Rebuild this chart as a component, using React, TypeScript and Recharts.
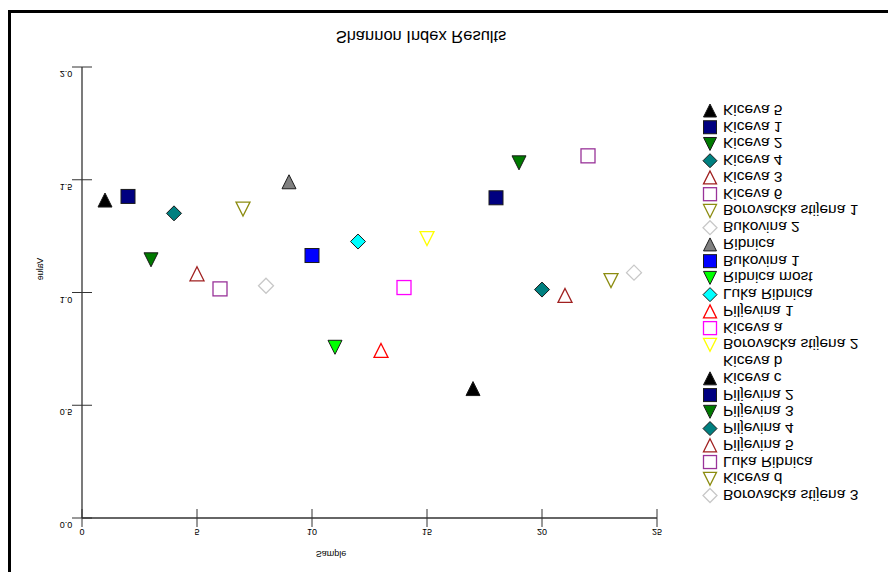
import { Legend, Scatter, ScatterChart, XAxis, YAxis } from "recharts";

// samples in plotting order (x = position on the Sample axis)
const sampleNames = [
  "Kiceva 5", "Kiceva 1", "Kiceva 2", "Kiceva 4", "Kiceva 3", "Kiceva 6",
  "Borovacka stijena 1", "Bukovina 2", "Ribnica", "Bukovina 1", "Ribnica most", "Luka Ribnica",
  "Piljevina 1", "Kiceva a", "Borovacka stijena 2", "Kiceva b", "Kiceva c", "Piljevina 2",
  "Piljevina 3", "Piljevina 4", "Piljevina 5", "Luka Ribnica", "Kiceva d", "Borovacka stijena 3",
];
const samplePositions = [1, 2, 3, 4, 5, 6, 7, 8, 9, 10, 11, 12, 13, 14, 15, 16, 17, 18, 19, 20, 21, 22, 23, 24];
const shannonValues = [
  1.41, 1.426, 1.145, 1.351, 1.083, 1.016,
  1.37, 1.03, 1.491, 1.164, 0.757, 1.226,
  0.743, 1.022, 1.239, 1.2, 0.574, 1.42,
  1.575, 1.013, 0.987, 1.606, 1.053, 1.088,
];
const xTicks = [0, 5, 10, 15, 20, 25];
const yTicks = [0, 0.5, 1, 1.5, 2];

// marker styles
const markerShapes = ["up", "square", "down", "diamond"];
const markerColors = [
  "#000000", "#000080", "#007a00", "#008080", "#a02020", "#993399", "#8c8c10", "#c8c8c8",
  "#808080", "#0000ff", "#00ff00", "#00ffff", "#ff0000", "#ff00ff", "#ffff00", "#ffffff",
  "#000000", "#000080", "#007a00", "#008080", "#a02020", "#993399", "#8c8c10", "#c8c8c8",
];
const markerFilled = [
  true, true, true, true, false, false, false, false,
  true, true, true, true, false, false, false, false,
  true, true, true, true, false, false, false, false,
];

const FONT = "'Liberation Sans', Arial, Helvetica, sans-serif";

// the source picture has every glyph mirrored top to bottom
function FlipText({ x, y, size, anchor = "middle", rotate = 0, children }: any) {
  const rot = rotate ? ` rotate(${rotate})` : "";
  return (
    <text
      transform={`translate(${x},${y}) scale(1,-1)${rot}`}
      x={0}
      y={0}
      textAnchor={anchor}
      dominantBaseline="central"
      fontSize={size}
      fontFamily={FONT}
      fill="#000"
    >
      {children}
    </text>
  );
}

function Marker({ cx, cy, i, s = 7 }: any) {
  const shape = markerShapes[i % 4];
  const color = markerColors[i];
  const filled = markerFilled[i];
  const fill = filled ? color : "#ffffff";
  const stroke = filled ? "#1a1a1a" : color;
  const sw = filled ? 1 : 1.3;
  if (shape === "square") {
    return <rect x={cx - s} y={cy - s} width={2 * s} height={2 * s} fill={fill} stroke={stroke} strokeWidth={sw} />;
  }
  let pts = "";
  if (shape === "up") pts = `${cx},${cy - s} ${cx + s},${cy + s} ${cx - s},${cy + s}`;
  if (shape === "down") pts = `${cx - s},${cy - s} ${cx + s},${cy - s} ${cx},${cy + s}`;
  if (shape === "diamond") {
    const d = s + 0.5;
    pts = `${cx},${cy - d} ${cx + d},${cy} ${cx},${cy + d} ${cx - d},${cy}`;
  }
  return <polygon points={pts} fill={fill} stroke={stroke} strokeWidth={sw} />;
}

function YTick({ x, y, payload }: any) {
  return (
    <g>
      <line x1={x - 10} x2={x + 10} y1={y} y2={y} stroke="#333" />
      <FlipText x={x - 16} y={y + 7} size={9}>
        {Number(payload.value).toFixed(1)}
      </FlipText>
    </g>
  );
}

function XTick({ x, y, payload }: any) {
  return (
    <g>
      <line x1={x} x2={x} y1={y - 9} y2={y + 9} stroke="#333" />
      <FlipText x={x} y={y + 14} size={9}>
        {payload.value}
      </FlipText>
    </g>
  );
}

// legend rows follow the series order (Recharts would sort them by name)
function LegendBox() {
  const rowH = 16.74;
  return (
    <svg width={188} height={420} style={{ display: "block" }}>
      {sampleNames.map((name, i) => {
        const cy = 8.5 + i * rowH;
        return (
          <g key={i}>
            <Marker cx={10} cy={cy} i={i} s={6.5} />
            <FlipText x={23} y={cy} size={15.5} anchor="start">
              {name}
            </FlipText>
          </g>
        );
      })}
    </svg>
  );
}

export default function App() {
  return (
    <div style={{ position: "relative", width: 888, height: 572, overflow: "hidden", background: "#fff" }}>
      <style>{"body{margin:0;overflow:hidden}"}</style>
      <div
        style={{
          position: "absolute",
          left: 8,
          top: 10,
          width: 878,
          height: 700,
          border: "3px solid #000",
        }}
      />
      <div style={{ position: "absolute", left: 0, top: 0 }}>
        <ScatterChart width={888} height={572} margin={{ top: 67, right: 231, bottom: 24, left: 42 }}>
          <XAxis
            type="number"
            dataKey="x"
            domain={[0, 25]}
            ticks={xTicks}
            height={30}
            tickSize={0}
            tickMargin={0}
            tickLine={false}
            axisLine={{ stroke: "#333", strokeWidth: 1.3 }}
            tick={<XTick />}
            interval={0}
          />
          <YAxis
            type="number"
            dataKey="y"
            domain={[0, 2]}
            ticks={yTicks}
            width={40}
            tickSize={0}
            tickMargin={0}
            tickLine={false}
            axisLine={{ stroke: "#333", strokeWidth: 1.3 }}
            tick={<YTick />}
            interval={0}
          />
          <Legend
            layout="vertical"
            align="center"
            verticalAlign="middle"
            wrapperStyle={{ left: 700, top: 102, width: 188 }}
            content={<LegendBox />}
          />
          {sampleNames.map((name, i) => (
            <Scatter
              key={i}
              name={name}
              data={[{ x: samplePositions[i], y: shannonValues[i] }]}
              fill={markerColors[i]}
              isAnimationActive={false}
              shape={(p: any) => <Marker cx={p.cx} cy={p.cy} i={i} />}
            />
          ))}
        </ScatterChart>
      </div>
      <svg width={888} height={572} style={{ position: "absolute", left: 0, top: 0, pointerEvents: "none" }}>
        <FlipText x={421} y={37} size={16.5}>
          Shannon Index Results
        </FlipText>
        <FlipText x={331} y={554} size={9}>
          Sample
        </FlipText>
        <FlipText x={40} y={269} size={9} rotate={-90}>
          Value
        </FlipText>
      </svg>
    </div>
  );
}
